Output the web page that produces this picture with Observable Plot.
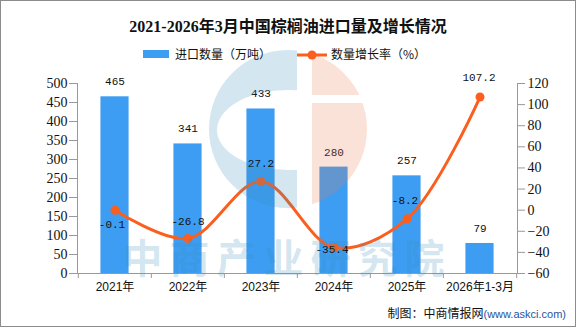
<!DOCTYPE html>
<html><head><meta charset="utf-8">
<script src="https://cdn.jsdelivr.net/npm/d3@7"></script>
<script src="https://cdn.jsdelivr.net/npm/@observablehq/plot@0.6"></script>
<style>
body{margin:0;background:#fff;}
#wrap{position:relative;width:576px;height:328px;overflow:hidden;font-family:"Noto Sans CJK SC",sans-serif;color:#111;}
#border{position:absolute;left:0;top:0;width:576px;height:327px;box-sizing:border-box;border:1px solid #8c8c8c;pointer-events:none;z-index:5}
#chart{position:absolute;left:0;top:0;z-index:1}
.ov{position:absolute;z-index:3;white-space:nowrap}
#title{left:0;width:576px;top:17px;text-align:center;font-weight:bold;font-size:16px;line-height:20px;font-family:"Liberation Serif","Noto Sans CJK SC",serif;}
.lt{font-size:12px;line-height:16px;top:46px}
#caption{right:10px;top:305px;font-size:12px;line-height:16px}
#caption span{font-family:"Liberation Sans",sans-serif;font-size:11px;color:#1f55a0}
</style></head>
<body>
<div id="wrap">
  <div id="chart"></div>
  <div id="title" class="ov">2021-2026年3月中国棕榈油进口量及增长情况</div>
  <div class="ov" id="lg1" style="left:143px;top:50px;width:26px;height:8px"></div>
  <div class="ov lt" id="lgt1" style="left:175px"></div>
  <svg class="ov" id="lg2" style="left:296px;top:49px" width="32" height="12"></svg>
  <div class="ov lt" id="lgt2" style="left:331px"></div>
  <div id="caption" class="ov">制图：中商情报网<span>(www.askci.com)</span></div>
  <div id="border"></div>
</div>
<script>
// ---- data ----
const categories = ["2021年", "2022年", "2023年", "2024年", "2025年", "2026年1-3月"];
const importVolume = [465, 341, 433, 280, 257, 79];          // 万吨
const growthRate = [-0.1, -26.8, 27.2, -35.4, -8.2, 107.2];  // %
const leftTicks = [0, 50, 100, 150, 200, 250, 300, 350, 400, 450, 500];
const rightTicks = [-60, -40, -20, 0, 20, 40, 60, 80, 100, 120];
const seriesNames = ["进口数量（万吨）", "数量增长率（%）"];

// ---- layout / style ----
const barColor = "#3d9df2";
const lineColor = "#fa5f1e";
const axisColor = "#999";
const rateLabelDx = [-3, 0, 0, -2, -2, -1];
const rateLabelDy = [14, -17, -18, 2, -18, -20];

const L0 = leftTicks[0], L1 = leftTicks[leftTicks.length - 1];
const R0 = rightTicks[0], R1 = rightTicks[rightTicks.length - 1];
const toLeft = r => (r - R0) / (R1 - R0) * (L1 - L0) + L0;
const toRight = v => (v - L0) / (L1 - L0) * (R1 - R0) + R0;

const rows = categories.map((c, i) => ({cat: c, vol: importVolume[i], rate: growthRate[i], ry: toLeft(growthRate[i])}));

const W = 576, H = 328, mT = 83, mB = 55, mL = 77, mR = 59;
const bw = (W - mL - mR) / categories.length;
const barW = 28.5;
const inset = (bw - barW) / 2;

const fmtMinus = v => (v < 0 ? "\u2212" : "") + Math.abs(v);

const chart = Plot.plot({
  width: W, height: H, marginTop: mT, marginBottom: mB, marginLeft: mL, marginRight: mR,
  style: {background: "transparent", overflow: "visible"},
  x: {domain: categories, type: "band", padding: 0, axis: null},
  y: {domain: [L0, L1], axis: null},
  marks: [
    Plot.barY(rows, {x: "cat", y: "vol", fill: barColor, insetLeft: inset, insetRight: inset}),
    Plot.ruleY([L0], {stroke: axisColor}),
    Plot.frame({anchor: "left", stroke: axisColor}),
    Plot.frame({anchor: "right", stroke: axisColor}),
    Plot.ruleX(categories, {x: d => d, dx: -bw / 2, insetTop: H - mT - mB, insetBottom: -5, stroke: axisColor}),
    Plot.ruleX([categories[categories.length - 1]], {x: d => d, dx: bw / 2, insetTop: H - mT - mB, insetBottom: -5, stroke: axisColor}),
    Plot.axisY(leftTicks, {anchor: "left", tickSize: 8, tickPadding: 2, stroke: axisColor, fill: "#111", fontSize: 14, fontFamily: "Liberation Serif", tickFormat: fmtMinus, label: null}),
    Plot.axisY(rightTicks.map(toLeft), {anchor: "right", tickSize: 7, tickPadding: 3, stroke: axisColor, fill: "#111", fontSize: 14, fontFamily: "Liberation Serif", tickFormat: d => fmtMinus(Math.round(toRight(d))), label: null}),
    Plot.axisX({tickSize: 0, tickPadding: 9, fill: "#111", fontSize: 12, fontFamily: "Liberation Sans, Noto Sans CJK SC", label: null}),
    Plot.line(rows, {x: "cat", y: "ry", stroke: lineColor, strokeWidth: 3, curve: "catmull-rom"}),
    Plot.dot(rows, {x: "cat", y: "ry", r: 4.5, fill: lineColor, stroke: "none"}),
    Plot.text(rows, {x: "cat", y: "vol", text: d => String(d.vol), dy: -15, fontSize: 11, fontFamily: "Liberation Mono", fill: "#111"}),
    ...rows.map((r, i) => Plot.text([r], {x: "cat", y: "ry", text: d => d.rate.toFixed(1), dx: rateLabelDx[i], dy: rateLabelDy[i], fontSize: 11, fontFamily: "Liberation Mono", fill: "#111"}))
  ]
});
document.getElementById("chart").appendChild(chart);

// ---- watermark (decorative overlay) ----
const svg = d3.select(chart);
const defs = svg.append("defs");
defs.append("clipPath").attr("id", "wmL").append("rect").attr("x", 0).attr("y", 0).attr("width", 297).attr("height", 328);
const cpR = defs.append("clipPath").attr("id", "wmR");
cpR.append("rect").attr("x", 312).attr("y", 0).attr("width", 200).attr("height", 95);
cpR.append("rect").attr("x", 312).attr("y", 103).attr("width", 200).attr("height", 200);
const wm = svg.append("g").attr("pointer-events", "none");
const cx = 288, cy = 129, rr = 79;
const circlePath = `M${cx - rr},${cy}a${rr},${rr} 0 1,0 ${2 * rr},0a${rr},${rr} 0 1,0 ${-2 * rr},0Z`;
const ell = `M${cx - 71},${cy + 1}a71,40 0 1,0 142,0a71,40 0 1,0 -142,0Z`;
wm.append("path").attr("d", circlePath + ell).attr("fill-rule", "evenodd").attr("clip-path", "url(#wmL)")
  .attr("fill", "rgb(59,141,186)").attr("fill-opacity", 0.22);
wm.append("path").attr("d", circlePath).attr("clip-path", "url(#wmR)")
  .attr("fill", "rgb(236,123,77)").attr("fill-opacity", 0.22);
wm.append("text").attr("x", 287).attr("y", 256).attr("text-anchor", "middle").attr("dominant-baseline", "central")
  .attr("font-family", "Noto Sans CJK SC").attr("font-size", 40).attr("font-weight", "bold").attr("letter-spacing", 7)
  .attr("fill", "rgb(59,141,186)").attr("fill-opacity", 0.22).text("中商产业研究院");

// ---- legend ----
document.getElementById("lg1").style.background = barColor;
document.getElementById("lgt1").textContent = seriesNames[0];
document.getElementById("lgt2").textContent = seriesNames[1];
const lg2 = d3.select("#lg2");
lg2.append("line").attr("x1", 1).attr("x2", 31).attr("y1", 6).attr("y2", 6).attr("stroke", lineColor).attr("stroke-width", 3);
lg2.append("circle").attr("cx", 16).attr("cy", 6).attr("r", 4.5).attr("fill", lineColor);
</script>
</body></html>
